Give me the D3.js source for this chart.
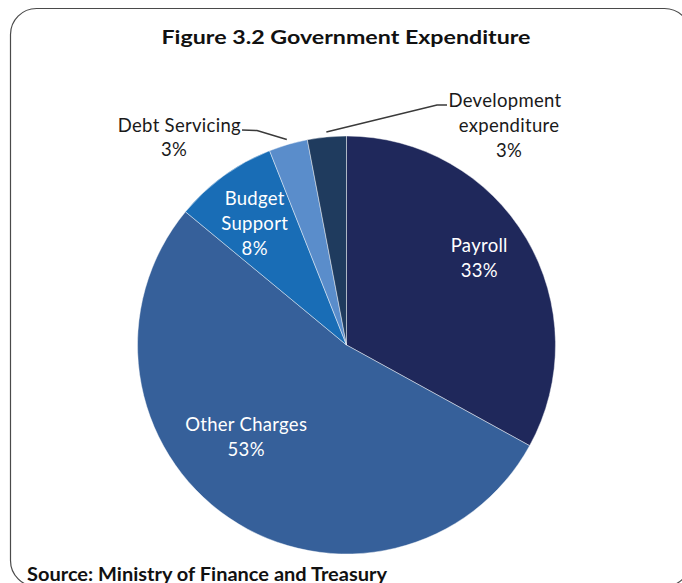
<!DOCTYPE html>
<html>
<head>
<meta charset="utf-8">
<script src="https://cdn.jsdelivr.net/npm/d3@7"></script>
<style>
  html, body { margin: 0; padding: 0; background: #ffffff; }
  svg { display: block; }
</style>
</head>
<body>
<svg id="chart" width="682" height="583"></svg>
<script>
// Government expenditure shares, clockwise from 12 o'clock
const categories = ["Payroll", "Other Charges", "Budget Support", "Debt Servicing", "Development expenditure"];
const shares = [33, 53, 8, 3, 3];
const sliceColors = ["#1f285b", "#36609a", "#196db6", "#5a8dcb", "#1f3b5e"];

const titleText = "Figure 3.2 Government Expenditure";
const sourceText = "Source: Ministry of Finance and Treasury";

const W = 682, H = 583;
const cx = 346.5, cy = 345, R = 209;
const font = "Lato, 'Open Sans', sans-serif";
const labelSize = 18.5;

const svg = d3.select("#chart");

// Rounded chart-area frame (runs past the right and bottom edges)
svg.append("rect")
  .attr("x", 10.5).attr("y", 8.5)
  .attr("width", 680).attr("height", 578)
  .attr("rx", 26).attr("ry", 26)
  .attr("fill", "#ffffff")
  .attr("stroke", "#4a4a4a")
  .attr("stroke-width", 1.2);

// Title
svg.append("text")
  .attr("x", 346).attr("y", 44)
  .attr("text-anchor", "middle")
  .attr("font-family", font)
  .attr("font-weight", "bold")
  .attr("font-size", 19)
  .attr("textLength", 369).attr("lengthAdjust", "spacingAndGlyphs")
  .attr("fill", "#111")
  .text(titleText);

const data = categories.map((c, i) => ({ name: c, value: shares[i], color: sliceColors[i] }));

const pie = d3.pie().sort(null).value(d => d.value);
const arcs = pie(data);
const arc = d3.arc().innerRadius(0).outerRadius(R);

const g = svg.append("g").attr("transform", `translate(${cx},${cy})`);

g.selectAll("path.slice")
  .data(arcs)
  .join("path")
  .attr("class", "slice")
  .attr("d", arc)
  .attr("fill", d => d.data.color)
  .attr("stroke", "#ffffff")
  .attr("stroke-opacity", 0.55)
  .attr("stroke-width", 0.8);

// Polar helper: angle measured clockwise from 12 o'clock
const polar = (a, r) => [r * Math.sin(a), -r * Math.cos(a)];
const mid = d => (d.startAngle + d.endAngle) / 2;
const deg = Math.PI / 180;

// Labels inside the slices (radius factor, angle nudge in degrees)
const insidePlacement = {
  "Payroll": { k: 0.76, da: -2.7, lines: ["Payroll"] },
  "Other Charges": { k: 0.65, da: 13.4, lines: ["Other Charges"] },
  "Budget Support": { k: 0.73, da: -1, lines: ["Budget", "Support"] }
};

const lineH = 25;
arcs.forEach(d => {
  const p = insidePlacement[d.data.name];
  if (!p) return;
  const [x, y] = polar(mid(d) + p.da * deg, p.k * R);
  const lines = p.lines.concat([d.data.value + "%"]);
  const y0 = y - (lines.length - 1) * lineH / 2 + 6.5;
  lines.forEach((t, i) => {
    g.append("text")
      .attr("x", x).attr("y", y0 + i * lineH)
      .attr("text-anchor", "middle")
      .attr("font-family", font)
      .attr("font-size", labelSize)
      .attr("letter-spacing", 0.3)
      .attr("fill", "#ffffff")
      .text(t);
  });
});

// Outside labels with leader lines
const leaderArc = d3.arc().innerRadius(R + 5).outerRadius(R + 5);
const outside = {
  "Debt Servicing": { elbow: [-89.5, -214.5], knee: [-104.5, -215], anchor: "end", tx: -105.5, ty: -213.3,
                      lines: ["Debt Servicing"], pctX: -172.5 },
  "Development expenditure": { elbow: [90.5, -240], knee: [100.5, -240], anchor: "start", tx: 102, ty: -238,
                               lines: ["Development", "expenditure"], pctX: 162.5 }
};

arcs.forEach(d => {
  const o = outside[d.data.name];
  if (!o) return;
  const [ex, ey] = leaderArc.centroid(d);
  g.append("polyline")
    .attr("points", [[ex, ey], o.elbow, o.knee].map(p => p.join(",")).join(" "))
    .attr("fill", "none")
    .attr("stroke", "#3a3a3a")
    .attr("stroke-width", 1.5);
  const texts = [];
  if (o.anchor === "end") {
    texts.push({ t: o.lines[0], x: o.tx, y: o.ty, a: "end" });
    texts.push({ t: d.data.value + "%", x: o.pctX, y: o.ty + lineH - 1, a: "middle" });
  } else {
    texts.push({ t: o.lines[0], x: o.tx, y: o.ty, a: "start" });
    texts.push({ t: o.lines[1], x: o.pctX, y: o.ty + lineH, a: "middle" });
    texts.push({ t: d.data.value + "%", x: o.pctX, y: o.ty + 2 * lineH, a: "middle" });
  }
  texts.forEach(s => {
    g.append("text")
      .attr("x", s.x).attr("y", s.y)
      .attr("text-anchor", s.a)
      .attr("font-family", font)
      .attr("font-size", labelSize)
      .attr("letter-spacing", 0.3)
      .attr("fill", "#1a1a1a")
      .text(s.t);
  });
});

// Source note
svg.append("text")
  .attr("x", 27).attr("y", 581)
  .attr("font-family", font)
  .attr("font-weight", "bold")
  .attr("font-size", 18.5)
  .attr("textLength", 360).attr("lengthAdjust", "spacingAndGlyphs")
  .attr("fill", "#111")
  .text(sourceText);
</script>
</body>
</html>
